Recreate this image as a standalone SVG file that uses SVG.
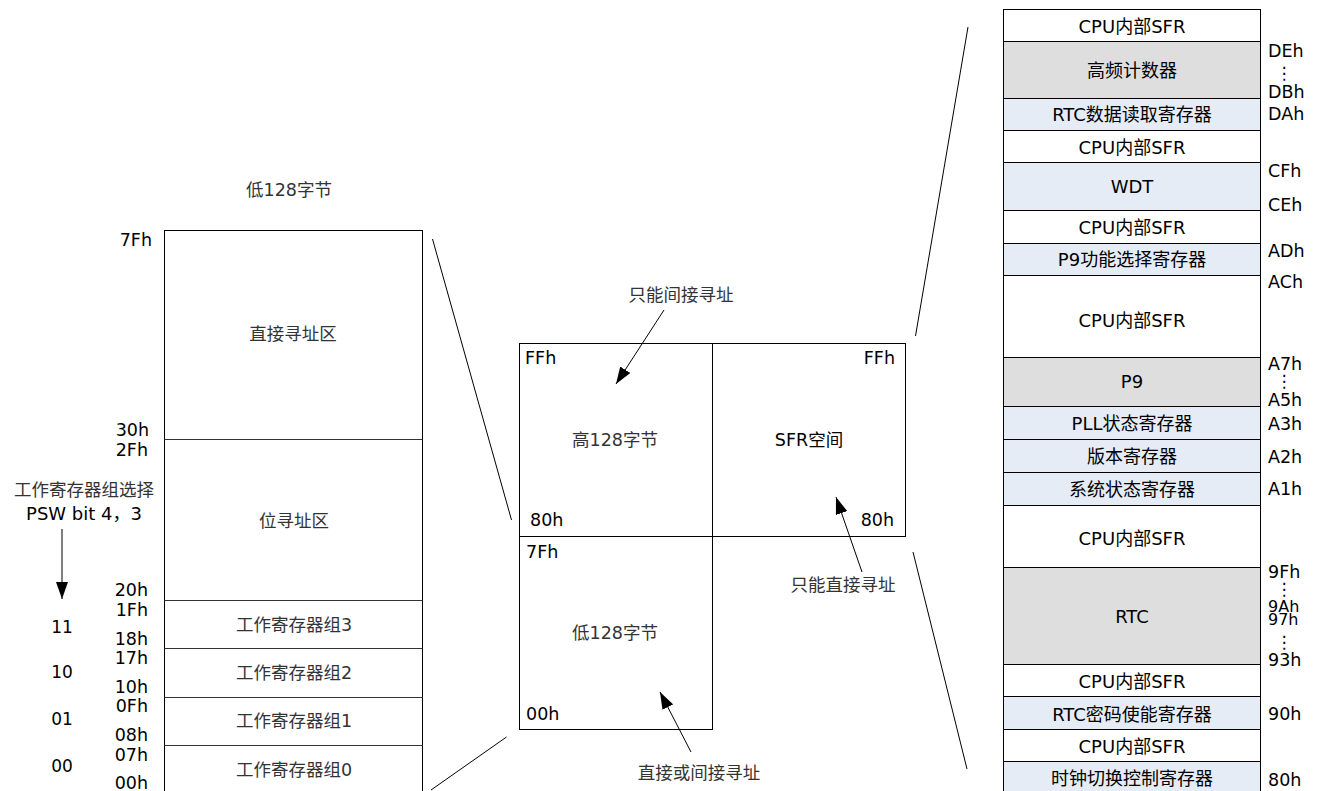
<svg xmlns="http://www.w3.org/2000/svg" width="1317" height="791" viewBox="0 0 1317 791">
<style>
text{font-family:"DejaVu Sans","Noto Sans CJK SC",sans-serif;fill:#000}
.lb{font-size:18px;text-anchor:middle}
.cj{font-size:17.5px;text-anchor:middle;fill:#333}
.ad{font-size:17.5px}
.sm{font-size:16px}
.ae{font-size:17.5px;text-anchor:end}
.dt{font-size:17px;text-anchor:middle}
.vd{font-size:17px;text-anchor:middle}
.w{fill:#fff;stroke:#000;stroke-width:1}
.g{fill:#dedede;stroke:#000;stroke-width:1}
.b{fill:#e6ecf6;stroke:#000;stroke-width:1}
.box{fill:#fff;stroke:#000;stroke-width:1}
.ln{stroke:#000;stroke-width:1;fill:none}
.dv{stroke:#333;stroke-width:1}
</style>
<defs>
<marker id="ah" markerUnits="userSpaceOnUse" markerWidth="17" markerHeight="12" refX="17" refY="6" orient="auto">
<path d="M0,0 L17,6 L0,12 z" fill="#000"/>
</marker>
</defs>
<rect width="1317" height="791" fill="#fff"/>

<g id="low128-map">
<text class="cj" x="289" y="196">低128字节</text>
<rect class="box" x="164.5" y="230.5" width="258" height="565"/>
<line class="dv" x1="164.5" y1="439.5" x2="422.5" y2="439.5"/>
<line class="dv" x1="164.5" y1="600.5" x2="422.5" y2="600.5"/>
<line class="dv" x1="164.5" y1="648.5" x2="422.5" y2="648.5"/>
<line class="dv" x1="164.5" y1="697.5" x2="422.5" y2="697.5"/>
<line class="dv" x1="164.5" y1="745.5" x2="422.5" y2="745.5"/>
<text class="cj" x="293" y="340">直接寻址区</text>
<text class="cj" x="294" y="527">位寻址区</text>
<text class="cj" x="294" y="631">工作寄存器组3</text>
<text class="cj" x="294" y="679">工作寄存器组2</text>
<text class="cj" x="294" y="727">工作寄存器组1</text>
<text class="cj" x="294" y="776">工作寄存器组0</text>
<text class="ae" x="152" y="246">7Fh</text>
<text class="ae" x="149" y="436">30h</text>
<text class="ae" x="148" y="456">2Fh</text>
<text class="ae" x="148" y="596">20h</text>
<text class="ae" x="148" y="616">1Fh</text>
<text class="ae" x="148" y="645">18h</text>
<text class="ae" x="148" y="664">17h</text>
<text class="ae" x="148" y="693">10h</text>
<text class="ae" x="148" y="712">0Fh</text>
<text class="ae" x="148" y="741">08h</text>
<text class="ae" x="148" y="761">07h</text>
<text class="ae" x="148" y="789">00h</text>
</g>

<g id="bank-select">
<text class="cj" x="84" y="496">工作寄存器组选择</text>
<text class="lb" x="84" y="520">PSW bit 4，3</text>
<text class="dt" x="62" y="633">11</text>
<text class="dt" x="62" y="678">10</text>
<text class="dt" x="62" y="725">01</text>
<text class="dt" x="62" y="772">00</text>
</g>

<g id="high128">
<rect class="box" x="519.5" y="343.5" width="193" height="193"/>
<text class="ad" x="525" y="364">FFh</text>
<text class="ad" x="530" y="526">80h</text>
<text class="cj" x="615" y="446">高128字节</text>
</g>

<g id="sfr-space">
<rect class="box" x="712.5" y="343.5" width="193" height="193"/>
<text class="ae" x="895" y="364">FFh</text>
<text class="ae" x="894" y="526">80h</text>
<text class="lb" x="809" y="446" style="font-size:17.5px">SFR空间</text>
</g>

<g id="low128">
<rect class="box" x="519.5" y="536.5" width="193" height="193"/>
<text class="ad" x="526" y="558">7Fh</text>
<text class="ad" x="526" y="720">00h</text>
<text class="cj" x="615" y="639">低128字节</text>
</g>

<g id="labels">
<text class="cj" x="681" y="301">只能间接寻址</text>
<text class="cj" x="843" y="591">只能直接寻址</text>
<text class="cj" x="699" y="779">直接或间接寻址</text>
</g>

<g id="sfr-map">
<rect class="w" x="1003.5" y="9.5" width="257" height="32"/>
<rect class="g" x="1003.5" y="41.5" width="257" height="57"/>
<rect class="b" x="1003.5" y="98.5" width="257" height="32"/>
<rect class="w" x="1003.5" y="130.5" width="257" height="32"/>
<rect class="b" x="1003.5" y="162.5" width="257" height="48"/>
<rect class="w" x="1003.5" y="210.5" width="257" height="33"/>
<rect class="b" x="1003.5" y="243.5" width="257" height="32"/>
<rect class="w" x="1003.5" y="275.5" width="257" height="82"/>
<rect class="g" x="1003.5" y="357.5" width="257" height="49"/>
<rect class="b" x="1003.5" y="406.5" width="257" height="33"/>
<rect class="b" x="1003.5" y="439.5" width="257" height="33"/>
<rect class="b" x="1003.5" y="472.5" width="257" height="33"/>
<rect class="w" x="1003.5" y="505.5" width="257" height="62"/>
<rect class="g" x="1003.5" y="567.5" width="257" height="97"/>
<rect class="w" x="1003.5" y="664.5" width="257" height="32"/>
<rect class="b" x="1003.5" y="696.5" width="257" height="33"/>
<rect class="w" x="1003.5" y="729.5" width="257" height="32"/>
<rect class="b" x="1003.5" y="761.5" width="257" height="34"/>
<text class="lb" x="1132" y="33">CPU内部SFR</text>
<text class="lb" x="1132" y="77">高频计数器</text>
<text class="lb" x="1132" y="121">RTC数据读取寄存器</text>
<text class="lb" x="1132" y="154">CPU内部SFR</text>
<text class="lb" x="1132" y="193">WDT</text>
<text class="lb" x="1132" y="234">CPU内部SFR</text>
<text class="lb" x="1132" y="266">P9功能选择寄存器</text>
<text class="lb" x="1132" y="327">CPU内部SFR</text>
<text class="lb" x="1132" y="388">P9</text>
<text class="lb" x="1132" y="430">PLL状态寄存器</text>
<text class="lb" x="1132" y="463">版本寄存器</text>
<text class="lb" x="1132" y="496">系统状态寄存器</text>
<text class="lb" x="1132" y="545">CPU内部SFR</text>
<text class="lb" x="1132" y="623">RTC</text>
<text class="lb" x="1132" y="688">CPU内部SFR</text>
<text class="lb" x="1132" y="721">RTC密码使能寄存器</text>
<text class="lb" x="1132" y="753">CPU内部SFR</text>
<text class="lb" x="1132" y="785">时钟切换控制寄存器</text>
<text class="ad" x="1268" y="57">DEh</text>
<text class="vd" x="1284" y="79">⋮</text>
<text class="ad" x="1268" y="98">DBh</text>
<text class="ad" x="1268" y="120">DAh</text>
<text class="ad" x="1268" y="177">CFh</text>
<text class="ad" x="1268" y="211">CEh</text>
<text class="ad" x="1268" y="257">ADh</text>
<text class="ad" x="1268" y="288">ACh</text>
<text class="ad" x="1268" y="370">A7h</text>
<text class="vd" x="1284" y="387">⋮</text>
<text class="ad" x="1268" y="406">A5h</text>
<text class="ad" x="1268" y="430">A3h</text>
<text class="ad" x="1268" y="463">A2h</text>
<text class="ad" x="1268" y="495">A1h</text>
<text class="ad" x="1268" y="578">9Fh</text>
<text class="vd" x="1284" y="595">⋮</text>
<text class="sm" x="1268" y="612">9Ah</text>
<text class="sm" x="1268" y="625">97h</text>
<text class="vd" x="1284" y="648">⋮</text>
<text class="ad" x="1268" y="666">93h</text>
<text class="ad" x="1268" y="720">90h</text>
<text class="ad" x="1268" y="786">80h</text>
</g>

<g id="connectors">
<line class="ln" x1="432.5" y1="239" x2="511.5" y2="520"/>
<line class="ln" x1="506.5" y1="737" x2="431" y2="790"/>
<line class="ln" x1="968" y1="27" x2="915.5" y2="336"/>
<line class="ln" x1="913" y1="552" x2="967" y2="769"/>
<line class="ln" x1="62" y1="529" x2="62" y2="599" marker-end="url(#ah)"/>
<line class="ln" x1="664" y1="310" x2="616" y2="384" marker-end="url(#ah)"/>
<line class="ln" x1="862" y1="572" x2="836" y2="497" marker-end="url(#ah)"/>
<line class="ln" x1="691" y1="752" x2="660" y2="692" marker-end="url(#ah)"/>
</g>
</svg>
